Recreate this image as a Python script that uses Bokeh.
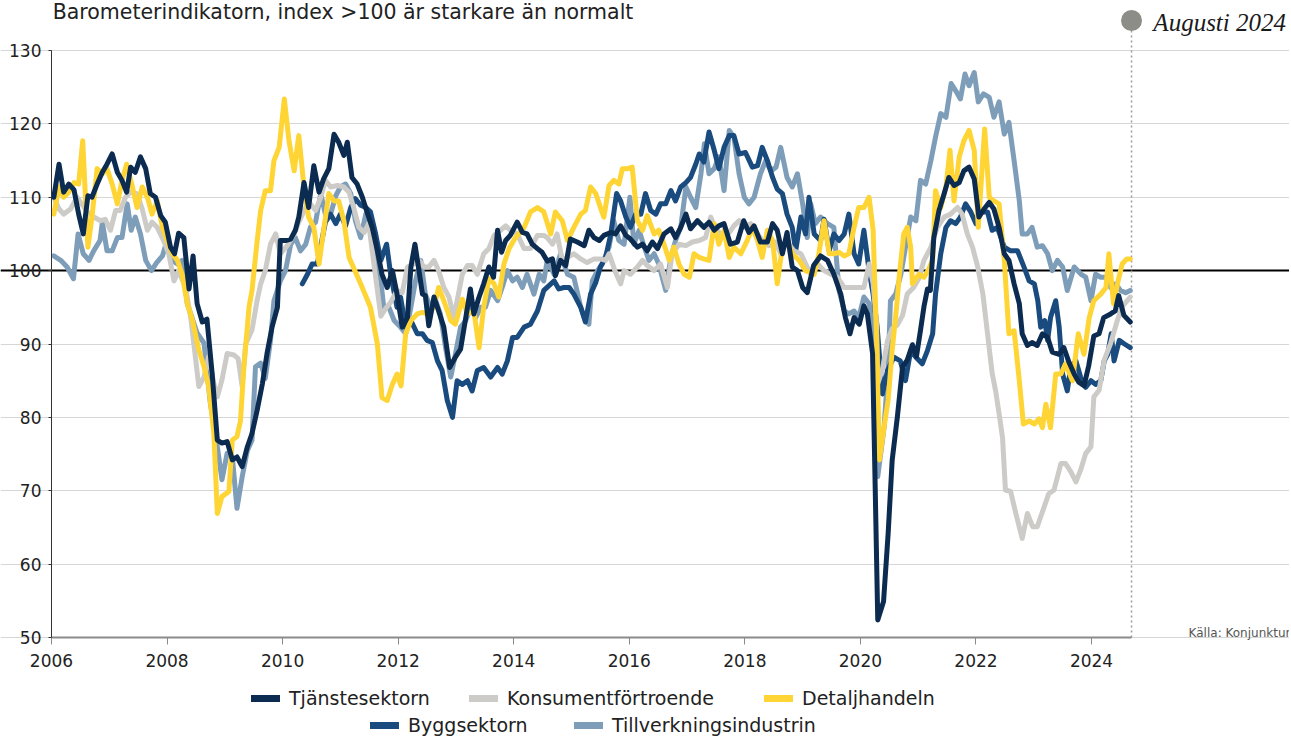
from bokeh.plotting import figure
from bokeh.models import Label, Legend, LegendItem, FixedTicker, Range1d, Grid
from bokeh.embed import file_html
from bokeh.resources import INLINE

# ---------------- data (decimal year, index) ----------------
tjanst_x = [2006.04,2006.13,2006.21,2006.30,2006.39,2006.47,2006.55,2006.63,2006.70,2006.79,2006.88,2006.96,
            2007.05,2007.14,2007.22,2007.30,2007.37,2007.45,2007.54,2007.63,2007.71,2007.80,2007.89,2007.97,
            2008.06,2008.13,2008.20,2008.29,2008.38,2008.45,2008.52,2008.61,2008.69,2008.78,2008.87,2008.95,
            2009.04,2009.13,2009.21,2009.30,2009.39,2009.47,2009.56,2009.65,2009.73,2009.82,2009.91,2009.96,
            2010.05,2010.14,2010.22,2010.28,2010.37,2010.45,2010.54,2010.63,2010.71,2010.80,2010.89,2010.97,
            2011.06,2011.12,2011.20,2011.29,2011.38,2011.46,2011.55,2011.64,2011.72,2011.81,2011.90,2011.98,
            2012.07,2012.16,2012.22,2012.29,2012.36,2012.42,2012.47,2012.53,2012.62,2012.70,2012.79,2012.89,
            2012.99,2013.08,2013.17,2013.25,2013.31,2013.40,2013.48,2013.57,2013.65,2013.72,2013.79,2013.86,
            2013.94,2014.06,2014.15,2014.23,2014.32,2014.41,2014.49,2014.58,2014.67,2014.72,2014.81,2014.90,
            2014.98,2015.10,2015.22,2015.30,2015.39,2015.48,2015.56,2015.68,2015.76,2015.85,2015.94,2016.02,
            2016.14,2016.23,2016.31,2016.40,2016.49,2016.60,2016.72,2016.80,2016.89,2016.98,2017.06,2017.18,
            2017.29,2017.38,2017.47,2017.55,2017.64,2017.75,2017.87,2017.98,2018.07,2018.16,2018.27,2018.39,
            2018.48,2018.56,2018.65,2018.73,2018.82,2018.91,2019.00,2019.08,2019.19,2019.31,2019.43,2019.54,
            2019.66,2019.74,2019.82,2019.89,2019.98,2020.06,2020.12,2020.21,2020.26,2020.30,2020.40,2020.48,
            2020.55,2020.64,2020.73,2020.81,2020.90,2020.97,2021.04,2021.10,2021.16,2021.21,2021.27,2021.36,
            2021.45,2021.53,2021.62,2021.71,2021.79,2021.88,2021.97,2022.05,2022.14,2022.23,2022.31,2022.40,
            2022.49,2022.57,2022.66,2022.75,2022.80,2022.89,2022.97,2023.06,2023.15,2023.24,2023.32,2023.44,
            2023.52,2023.61,2023.70,2023.78,2023.87,2023.95,2024.04,2024.13,2024.21,2024.33,2024.41,2024.47,
            2024.56,2024.67]
tjanst_y = [110,114.5,110.7,111.8,111,107.7,105,110.2,110,111.8,113.4,114.5,
            115.9,113.4,112.3,110.7,114.1,113.4,115.5,113.9,110.5,110,107.5,106.6,
            103.2,102.3,105.1,104.5,97.5,102,95.5,93,93.4,86,76.9,76.5,
            76.7,74.2,74.6,73.3,76,77.8,81,84.6,88.7,92.4,95,104.1,
            104.1,104.3,105.5,107.3,112,108.6,114.3,110.7,112.5,113.9,118.6,117.5,
            115.7,117.5,112.7,111.8,110,108,105.9,102.7,99.5,97.7,100,96.8,
            92.3,93.6,100.5,103.6,100,96.8,96.6,92.5,96.4,94.5,92.3,86.8,
            88.2,89.3,93.6,97.5,94.1,96.4,98.2,100.5,99.1,105.5,102.5,104.1,
            104.8,106.6,105.2,105,103.6,103,102.5,101.3,101.6,99.3,101.4,100.7,
            104.3,103.9,103.4,105.5,104.5,104.1,104.8,105.2,105,106.1,104.8,104.3,
            103.2,103.6,102.7,103.9,103,105,105.7,104.5,105.9,107.7,105.7,106.8,
            105.9,106.6,105.5,106.1,106.4,103.6,103.9,106.8,105.2,106.1,103.9,103.9,
            106.4,105.5,102.3,105.2,100.5,100,97.7,97,100.7,102,101.4,99.5,
            96.8,93.6,91.4,93.6,92.7,95.2,94.1,88.7,68.7,52.4,54.9,64.2,
            74.2,80.1,86.9,87.8,89.9,88.3,91.9,95.1,97.5,97.3,104.5,108.2,
            110.5,112.7,111.6,112,113.6,114.1,112.5,107.3,108.4,109.3,108.4,105.9,
            102.3,101.4,98.2,95.5,91.4,89.8,90.2,89.8,91.4,90.9,88.9,88.6,
            89.5,87.5,85.9,84.8,84.3,87,91.1,91.4,93.6,94.1,94.5,96.6,
            93.9,93]

konsument_x = [2006.04,2006.13,2006.21,2006.33,2006.44,2006.62,2006.73,2006.85,2006.93,2007.02,2007.11,2007.19,
               2007.28,2007.37,2007.48,2007.57,2007.66,2007.74,2007.83,2007.94,2008.03,2008.12,2008.20,2008.32,
               2008.41,2008.55,2008.64,2008.72,2008.81,2008.87,2008.95,2009.04,2009.16,2009.23,2009.30,2009.36,
               2009.47,2009.56,2009.62,2009.70,2009.79,2009.88,2009.96,2010.08,2010.20,2010.28,2010.40,2010.48,
               2010.57,2010.66,2010.74,2010.83,2010.95,2011.06,2011.15,2011.23,2011.32,2011.41,2011.49,2011.58,
               2011.70,2011.78,2011.87,2011.98,2012.07,2012.16,2012.27,2012.36,2012.45,2012.53,2012.62,2012.70,
               2012.79,2012.88,2012.96,2013.02,2013.11,2013.20,2013.28,2013.37,2013.48,2013.57,2013.66,2013.77,
               2013.86,2013.94,2014.06,2014.18,2014.29,2014.41,2014.52,2014.58,2014.67,2014.75,2014.84,2014.93,
               2015.04,2015.16,2015.27,2015.39,2015.50,2015.59,2015.65,2015.76,2015.85,2015.91,2016.02,2016.14,
               2016.23,2016.31,2016.43,2016.54,2016.66,2016.74,2016.86,2016.98,2017.09,2017.21,2017.32,2017.41,
               2017.49,2017.61,2017.73,2017.81,2017.90,2017.98,2018.10,2018.22,2018.30,2018.42,2018.53,2018.62,
               2018.73,2018.85,2018.97,2019.14,2019.26,2019.37,2019.49,2019.60,2019.72,2019.83,2019.95,2020.06,
               2020.15,2020.22,2020.28,2020.30,2020.38,2020.47,2020.55,2020.64,2020.73,2020.81,2020.92,2021.01,
               2021.10,2021.22,2021.33,2021.45,2021.56,2021.68,2021.76,2021.85,2021.94,2022.03,2022.12,2022.20,
               2022.28,2022.34,2022.40,2022.46,2022.51,2022.60,2022.69,2022.80,2022.89,2022.98,2023.06,2023.18,
               2023.26,2023.35,2023.47,2023.55,2023.64,2023.73,2023.81,2023.90,2023.99,2024.04,2024.13,2024.22,
               2024.33,2024.45,2024.53,2024.67]
konsument_y = [110,108.4,107.7,108.4,110,108,107.3,106.8,107,105.5,108.2,108.2,
               110,110.7,110.5,108.4,105.5,106.6,105.9,104.1,102.3,98.6,100,97.7,
               93.6,84.2,85.5,88.3,84.6,82.8,85.1,88.7,88.5,88,84.2,90,
               91.9,96,98.2,100,103.6,105,102.3,103.4,105,106.6,108.6,109.1,
               108.2,110,112.3,111.4,111.6,111.4,110.7,108.6,105.9,105.2,106.4,100.9,
               93.8,94.8,95.7,97.3,97,100.5,100.9,101.4,100.5,100.5,101.4,100,
               97.7,96.4,93.6,95.9,99.5,100.7,100.7,99.5,102.3,103,104.8,105.5,
               106.1,105.5,105,103,103,104.8,104.8,104.5,103.6,105,101.4,101.8,
               102.3,101.6,101.1,101.6,101.6,101.4,102.3,99.8,98.2,100,99.5,100.5,
               101.4,100.7,100,100.9,97.7,102.3,103.6,103.4,103.9,104.1,104.5,107.3,
               105.7,104.8,105.2,106.1,106.8,105.9,106.4,105,104.1,103.4,103.9,102.3,
               103.9,102.7,102.3,99.5,100.9,100,99.5,99.1,97.7,97.7,97.7,97.7,
               100.9,98.2,92.7,84.6,86.5,90.5,92.1,92.6,93.9,96.8,97.7,98.9,
               101.4,103.2,105.9,107.3,107.7,108.6,107.7,105,103.2,100.5,96.8,91.4,
               86,83.6,80.5,77.2,70.1,69.9,66.9,63.5,66.9,65.1,65.1,67.8,
               69.6,70.1,73.7,73.7,72.6,71.2,72.8,75.1,76,82.8,83.7,87.8,
               90.1,93.3,95.1,96.4]

detalj_x = [2006.04,2006.13,2006.21,2006.30,2006.39,2006.47,2006.54,2006.63,2006.70,2006.79,2006.88,2006.96,
            2007.05,2007.14,2007.22,2007.30,2007.40,2007.48,2007.57,2007.66,2007.74,2007.83,2007.92,2008.00,
            2008.09,2008.18,2008.26,2008.35,2008.44,2008.55,2008.64,2008.72,2008.81,2008.87,2008.95,2009.07,
            2009.13,2009.21,2009.27,2009.33,2009.42,2009.47,2009.56,2009.62,2009.70,2009.79,2009.85,2009.94,
            2010.03,2010.11,2010.20,2010.28,2010.37,2010.45,2010.54,2010.63,2010.71,2010.80,2010.89,2010.97,
            2011.06,2011.15,2011.35,2011.52,2011.64,2011.72,2011.81,2011.90,2011.98,2012.05,2012.13,2012.22,
            2012.33,2012.42,2012.50,2012.62,2012.70,2012.79,2012.91,2012.99,2013.11,2013.20,2013.31,2013.40,
            2013.48,2013.57,2013.66,2013.74,2013.83,2013.92,2014.03,2014.18,2014.29,2014.41,2014.52,2014.64,
            2014.72,2014.84,2014.93,2015.04,2015.16,2015.24,2015.33,2015.42,2015.50,2015.56,2015.65,2015.73,
            2015.82,2015.88,2015.97,2016.05,2016.14,2016.23,2016.31,2016.43,2016.51,2016.60,2016.69,2016.77,
            2016.86,2016.95,2017.04,2017.12,2017.21,2017.29,2017.38,2017.47,2017.55,2017.64,2017.73,2017.81,
            2017.93,2018.04,2018.13,2018.22,2018.30,2018.39,2018.48,2018.56,2018.65,2018.73,2018.82,2018.94,
            2019.05,2019.20,2019.28,2019.37,2019.46,2019.54,2019.63,2019.72,2019.80,2019.89,2019.97,2020.06,
            2020.15,2020.22,2020.28,2020.33,2020.41,2020.48,2020.55,2020.62,2020.67,2020.75,2020.81,2020.87,
            2020.90,2021.01,2021.10,2021.17,2021.25,2021.30,2021.39,2021.48,2021.55,2021.62,2021.71,2021.79,
            2021.88,2021.97,2022.04,2022.15,2022.23,2022.31,2022.40,2022.49,2022.57,2022.66,2022.75,2022.82,
            2022.92,2023.01,2023.09,2023.15,2023.21,2023.29,2023.38,2023.47,2023.55,2023.67,2023.77,2023.87,
            2023.96,2024.04,2024.16,2024.25,2024.30,2024.38,2024.46,2024.53,2024.61,2024.67]
detalj_y = [107.7,111.4,110,110.7,112,111.8,117.7,103.2,107.3,113.9,113.2,113.9,
            111.8,109.1,112.3,114.5,111.4,108.6,111.4,110,107.7,109.5,105.9,104.1,
            102.3,101.4,99.5,95.5,93.2,89.2,86.9,84.2,77.8,66.9,69.2,69.9,
            76.9,77.4,79.5,86.9,95.1,97.3,104.1,108.2,110.9,110.9,115,116.8,
            123.4,117.7,113.6,118.4,111.4,107.3,105.9,100.9,105.5,110.5,109.5,109.5,
            106.8,101.8,98.2,95,90,82.7,82.3,84.5,85.9,84.3,91.4,93.2,
            94.1,94.3,94.1,95,97.7,95.9,93.2,92.7,96.1,94.1,94.5,89.5,
            95,98.9,98.2,96.4,100.9,103,104.5,105.9,108,108.6,108,105,
            108,106.8,104.1,105.9,107.7,108.2,111.4,110.5,108.6,107.3,111.6,112.3,
            111.8,113.9,113.9,114.1,106.8,105.5,107.5,105,105.5,103.6,101.4,103.2,
            100.9,99.5,99.1,102.3,101.8,101.6,101.4,106.4,103.6,105.5,101.8,103.2,
            102.3,104.1,105.9,104.1,101.8,105.5,104.1,98.2,103.2,104.1,102.3,101.4,
            100,99.5,102.3,106.8,102.3,102.3,102.5,102,102.3,105.9,108.6,108.6,
            110,105.5,90.5,74.2,78.7,82.4,89.2,94.5,99.1,105,105.9,103.2,
            98.2,99.5,99.1,100,101.4,110.9,108.6,111.4,116.4,109.5,115.5,117.7,
            119.1,116.4,105.9,119.3,110,109.5,109.1,101.4,91.4,91.8,85,79.1,
            79.5,79.1,79.8,78.6,81.8,78.6,85.9,85.9,87.3,85,91.4,88.6,
            93.6,95.9,96.8,97.7,102.3,95.5,98.6,100.9,101.6,101.6]

bygg_x = [2010.34,2010.43,2010.51,2010.60,2010.74,2010.83,2010.92,2011.00,2011.09,2011.18,2011.26,2011.35,
          2011.44,2011.52,2011.61,2011.70,2011.80,2011.87,2011.98,2012.04,2012.13,2012.22,2012.33,2012.42,
          2012.50,2012.59,2012.68,2012.76,2012.85,2012.94,2013.02,2013.11,2013.20,2013.28,2013.37,2013.48,
          2013.60,2013.72,2013.80,2013.89,2013.98,2014.06,2014.18,2014.29,2014.41,2014.52,2014.70,2014.78,
          2014.87,2014.96,2015.04,2015.16,2015.24,2015.33,2015.42,2015.50,2015.59,2015.68,2015.78,2015.85,
          2015.94,2016.02,2016.11,2016.20,2016.28,2016.37,2016.46,2016.54,2016.63,2016.72,2016.80,2016.89,
          2016.98,2017.06,2017.15,2017.21,2017.29,2017.38,2017.47,2017.55,2017.64,2017.73,2017.81,2017.90,
          2018.01,2018.13,2018.22,2018.30,2018.39,2018.48,2018.56,2018.65,2018.73,2018.82,2018.88,2018.97,
          2019.05,2019.11,2019.20,2019.31,2019.37,2019.46,2019.54,2019.63,2019.72,2019.80,2019.89,2019.97,
          2020.06,2020.15,2020.22,2020.29,2020.38,2020.47,2020.58,2020.69,2020.78,2020.87,2020.96,2021.07,
          2021.16,2021.25,2021.30,2021.39,2021.48,2021.56,2021.65,2021.73,2021.82,2021.91,2022.00,2022.08,
          2022.20,2022.28,2022.37,2022.49,2022.60,2022.72,2022.83,2022.92,2023.01,2023.07,2023.12,2023.19,
          2023.24,2023.29,2023.38,2023.44,2023.50,2023.58,2023.64,2023.73,2023.81,2023.90,2023.99,2024.07,
          2024.16,2024.22,2024.28,2024.34,2024.39,2024.48,2024.57,2024.67]
bygg_y = [98.2,99.5,100.9,100.9,106.6,107.7,106.4,107.7,106.1,108.6,109.8,108.9,
          108.6,108,105,101.4,103.6,99.5,95,96.4,92.3,93.2,91.4,91.4,
          90.5,90.2,87.7,86.4,82.3,80,85,84.5,85,83.6,86.4,86.8,
          85.5,86.8,85.9,87.7,90.9,90.9,92.3,92.7,94.5,97.3,98.6,97.5,
          97.7,97.7,96.8,95,93,96.8,98.4,100.5,101.8,105,110.5,109.5,
          107.3,105.9,107.7,107.7,110.5,108.2,107.7,109.1,109.1,110.9,109.5,111.4,
          112,112.7,114.5,115.9,114.8,118.9,116.4,113.9,116.8,118.4,118.4,115.9,
          116.1,114.1,114.3,116.8,115,112.7,111.1,110.5,107.7,105.9,102.7,107.3,
          105,110,105,104.1,107,102.7,105,104.1,105,107.7,102.3,100.9,
          105.5,100,96.8,92.3,83.2,86.4,88.2,87.7,85,89.1,88.2,87.3,
          89.1,91.4,96.8,102.3,105.9,106.8,106.4,107.3,109.1,108,106.4,108,
          108,105.5,105.9,103.2,102.7,102.7,100.5,98.6,98.2,95.9,92.3,93.2,
          90.5,93.6,95.9,92.3,85.9,83.6,86.8,87.7,85.5,84.1,85,84.5,
          85,87.7,88.6,91.4,87.7,90.5,90,89.5]

tillv_x = [2006.04,2006.16,2006.27,2006.38,2006.46,2006.55,2006.65,2006.73,2006.84,2006.88,2006.96,2007.05,
           2007.14,2007.22,2007.31,2007.38,2007.45,2007.54,2007.63,2007.73,2007.82,2007.92,2008.00,2008.09,
           2008.18,2008.26,2008.35,2008.52,2008.64,2008.75,2008.87,2008.95,2009.04,2009.13,2009.21,2009.30,
           2009.39,2009.47,2009.53,2009.62,2009.70,2009.79,2009.85,2009.96,2010.05,2010.14,2010.22,2010.31,
           2010.40,2010.48,2010.57,2010.66,2010.74,2010.83,2010.92,2011.00,2011.09,2011.18,2011.26,2011.35,
           2011.44,2011.52,2011.61,2011.70,2011.75,2011.84,2011.93,2012.04,2012.13,2012.22,2012.30,2012.39,
           2012.47,2012.56,2012.65,2012.73,2012.82,2012.91,2012.99,2013.08,2013.17,2013.25,2013.34,2013.43,
           2013.51,2013.60,2013.72,2013.80,2013.89,2013.98,2014.06,2014.15,2014.23,2014.35,2014.44,2014.52,
           2014.58,2014.70,2014.81,2014.93,2015.04,2015.16,2015.24,2015.30,2015.36,2015.45,2015.53,2015.65,
           2015.73,2015.82,2015.91,2016.01,2016.08,2016.17,2016.26,2016.34,2016.43,2016.51,2016.63,2016.72,
           2016.80,2016.89,2016.98,2017.06,2017.15,2017.24,2017.30,2017.38,2017.47,2017.55,2017.64,2017.73,
           2017.81,2017.90,2017.99,2018.07,2018.16,2018.27,2018.36,2018.45,2018.54,2018.62,2018.73,2018.82,
           2018.91,2019.00,2019.08,2019.14,2019.22,2019.31,2019.43,2019.54,2019.63,2019.72,2019.80,2019.89,
           2019.97,2020.06,2020.15,2020.22,2020.30,2020.41,2020.48,2020.52,2020.61,2020.70,2020.78,2020.87,
           2020.96,2021.04,2021.13,2021.22,2021.30,2021.39,2021.48,2021.57,2021.65,2021.73,2021.81,2021.88,
           2021.97,2022.04,2022.13,2022.23,2022.31,2022.40,2022.49,2022.57,2022.66,2022.75,2022.80,2022.89,
           2022.97,2023.06,2023.15,2023.24,2023.32,2023.41,2023.50,2023.58,2023.70,2023.82,2023.90,2023.99,
           2024.07,2024.16,2024.25,2024.33,2024.42,2024.50,2024.59,2024.67]
tillv_y = [102,101.4,100.5,98.9,105,102.3,101.4,102.7,104.1,106.6,102.7,102.7,
           104.5,104.5,109.1,105.5,107.3,105,101.4,100,101.1,102,104.1,101.4,
           100.9,101.4,95.5,91.5,90.1,81.9,76,71.5,75.1,74.6,67.6,71.9,
           75.5,76.9,86.9,87.4,85.3,90.5,95.9,98.6,100,103.6,104.5,102.7,
           103.6,105.9,106.6,110.5,107.7,107.7,110.2,111.4,111.8,110.5,106.8,104.5,
           107.7,106.4,101.4,98.6,95,95,93.2,92.3,91.4,95,98.6,101.4,
           96.8,95,95.9,94.1,89.5,85.5,88.6,92.3,93.2,95,93.6,95,
           95,97.3,95.9,97.7,100,98.6,99.1,97.7,99.5,96.8,99.5,98.6,
           101.4,99.5,102.3,99.5,99.1,95,93.2,92.7,98.6,100,100.9,103.2,
           106.8,104.1,103.6,110,103.6,105.5,103.2,101.4,102.3,100.9,97.3,101.8,
           104.1,105.9,111.4,110,108.6,113.2,117.3,113.2,113.9,115.5,110.9,119.1,
           118.2,113.2,110,109.1,110,113.2,115,113.6,114.1,116.8,112.7,111.4,
           113.2,109.1,104.5,109.1,106.4,107.3,106.4,105.9,97.3,94.5,94.1,94.5,
           93.6,96.4,95.5,92.7,71.9,78.7,86.9,95.9,96.8,99.5,103.2,107.3,
           106.8,112.3,111.8,115,118.2,121.4,120.9,125.5,124.5,123.4,126.8,125.2,
           127,123,124.1,123.6,120.9,123,118.6,120.2,115,109.5,105,105,
           105.9,103.2,103.4,102.3,100,101.4,100.5,97.3,100.5,99.5,99.1,95.9,
           99.5,99.1,99.1,97.7,98.2,97.3,97,97.3]

x_ticks = [2006, 2008, 2010, 2012, 2014, 2016, 2018, 2020, 2022, 2024]
y_ticks = [50, 60, 70, 80, 90, 100, 110, 120, 130]
x_start = 2006
x_end = 2024.692          # end of August 2024 (the marked month)
title_text = "Barometerindikatorn, index >100 är starkare än normalt"
month_text = "Augusti 2024"
source_text = "Källa: Konjunkturinstitutet"

series = [  # name, x, y, colour  (drawn bottom to top)
    ("Tillverkningsindustrin", tillv_x, tillv_y, "#7e9db9"),
    ("Byggsektorn", bygg_x, bygg_y, "#1a4b7e"),
    ("Konsumentförtroende", konsument_x, konsument_y, "#cdcbc7"),
    ("Detaljhandeln", detalj_x, detalj_y, "#fed535"),
    ("Tjänstesektorn", tjanst_x, tjanst_y, "#0c2b50"),
]
# legend layout: (name, left px of the swatch, bottom px above the canvas bottom)
legend_layout = [
    ("Tjänstesektorn", 251, 27),
    ("Konsumentförtroende", 469, 27),
    ("Detaljhandeln", 764, 27),
    ("Byggsektorn", 370, 0),
    ("Tillverkningsindustrin", 574, 0),
]

FONT = "DejaVu Sans"
TXT = "#222222"

# pixel geometry: 57.78 px per year, 7.3375 px per index point
PX_YEAR = 57.78
PX_UNIT = 7.3375
AXIS_LEFT_PX = 51                  # where 2006 sits, from the left
AXIS_PX = 637                      # where index 50 sits, from the top
FRAME_W = 1289
FRAME_H = 737
x_min = x_start - AXIS_LEFT_PX / PX_YEAR
x_max = x_min + FRAME_W / PX_YEAR
y_max = 50 + AXIS_PX / PX_UNIT
y_min = 50 - (FRAME_H - AXIS_PX) / PX_UNIT

p = figure(frame_width=FRAME_W, frame_height=FRAME_H,
           min_border_left=0, min_border_right=0, min_border_top=0, min_border_bottom=0,
           x_range=Range1d(x_min, x_max), y_range=Range1d(y_min, y_max),
           output_backend="svg", toolbar_location=None, background_fill_color="white")
p.outline_line_color = None

# grid
p.xgrid.visible = False
p.ygrid.ticker = FixedTicker(ticks=y_ticks)
p.ygrid.grid_line_color = "#d6d6d6"
p.ygrid.grid_line_width = 1
p.ygrid.bounds = (x_start, x_end)
# reference line at 100 (below the series)
p.add_layout(Grid(dimension=1, ticker=FixedTicker(ticks=[100]), grid_line_color="black",
                  grid_line_width=2, bounds=(x_start, x_end)))

# axes
p.yaxis.fixed_location = x_start
p.yaxis.ticker = FixedTicker(ticks=y_ticks)
p.yaxis.bounds = (50, 130)
p.yaxis.axis_line_color = "#333333"
p.yaxis.axis_line_width = 1
p.yaxis.major_tick_line_color = "#333333"
p.yaxis.major_tick_out = 3
p.yaxis.major_tick_in = 0
p.yaxis.minor_tick_line_color = None
p.yaxis.major_label_standoff = 7
p.yaxis.major_label_text_font = FONT
p.yaxis.major_label_text_font_size = "17px"
p.yaxis.major_label_text_color = TXT

p.xaxis.fixed_location = 50
p.xaxis.ticker = FixedTicker(ticks=x_ticks)
p.xaxis.bounds = (x_start, x_end)
p.xaxis.axis_line_color = "#8a8a8a"
p.xaxis.axis_line_width = 2
p.xaxis.major_tick_line_color = "#8a8a8a"
p.xaxis.major_tick_out = 7
p.xaxis.major_tick_in = 0
p.xaxis.minor_tick_line_color = None
p.xaxis.major_label_standoff = 9
p.xaxis.major_label_text_font = FONT
p.xaxis.major_label_text_font_size = "17px"
p.xaxis.major_label_text_color = TXT

# dotted marker line for the latest month
p.segment(x0=[x_end], y0=[50], x1=[x_end], y1=[133.3], line_color="#9a9a9a",
          line_width=1.5, line_dash="2 3")

nan = float("nan")
legend_r = {}
for name, xs, ys, col in series:
    p.line(xs, ys, line_color=col, line_width=5, line_join="round", line_cap="round")
    # legend swatch proxy (no visible data)
    legend_r[name] = p.line([nan], [nan], line_color=col, line_width=7, line_cap="round")

p.scatter([x_end], [134.09], size=21, marker="circle", fill_color="#8d8d87", line_color=None)
p.add_layout(Label(x=2025.07, y=133.82, text=month_text, text_baseline="middle",
                   text_font="Liberation Serif", text_font_style="italic",
                   text_font_size="25px", text_color="#1a1a1a"))
p.add_layout(Label(x=2006.02, y=135.18, text=title_text, text_baseline="middle",
                   text_font=FONT, text_font_size="20.5px", text_color=TXT))
p.add_layout(Label(x=2025.68, y=50.68, text=source_text, text_baseline="middle",
                   text_font=FONT, text_font_size="12px", text_color="#555555"))

for name, left_px, bottom_px in legend_layout:
    p.add_layout(Legend(items=[LegendItem(label=name, renderers=[legend_r[name]])],
                        orientation="horizontal", location=(left_px, bottom_px),
                        glyph_width=29, glyph_height=24, label_height=24, label_standoff=9,
                        padding=0, margin=0, border_line_color=None, background_fill_alpha=0,
                        label_text_font=FONT, label_text_font_size="19px", label_text_color=TXT))

open("out.html", "w").write(file_html(p, INLINE))
